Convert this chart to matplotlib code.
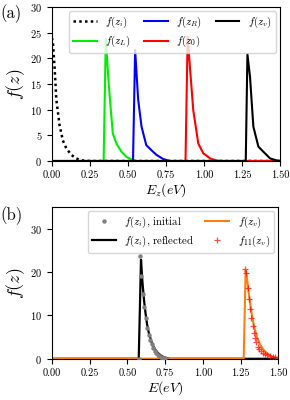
import matplotlib
matplotlib.use("Agg")
import matplotlib.pyplot as plt

plt.rcParams['font.family'] = ['cmr10', 'DejaVu Serif']
plt.rcParams['mathtext.fontset'] = 'cm'
plt.rcParams['axes.formatter.use_mathtext'] = True
plt.rcParams['axes.unicode_minus'] = False

# ---- panel (a) data ----
xi = [0.0, 0.007, 0.018, 0.029, 0.05, 0.072, 0.094, 0.127, 0.16, 0.19, 0.22, 0.26, 1.5]
yi = [24.0, 23.0, 18.0, 12.0, 7.0, 4.0, 2.5, 1.2, 0.5, 0.15, 0.05, 0.0, 0.0]

xL = [0.0, 0.34, 0.354, 0.37, 0.38, 0.40, 0.424, 0.457, 0.49, 0.53, 0.56, 1.5]
yL = [0.0, 0.0, 23.8, 16.5, 12.5, 5.4, 3.4, 1.8, 0.8, 0.2, 0.0, 0.0]

xR = [0.0, 0.533, 0.547, 0.567, 0.589, 0.62, 0.654, 0.687, 0.73, 0.775, 1.5]
yR = [0.0, 0.0, 21.6, 11.9, 6.7, 3.1, 2.1, 1.2, 0.4, 0.0, 0.0]

x0 = [0.0, 0.878, 0.892, 0.907, 0.929, 0.962, 0.995, 1.04, 1.08, 1.12, 1.5]
y0 = [0.0, 0.0, 24.2, 18.3, 9.9, 3.4, 1.5, 0.5, 0.1, 0.0, 0.0]

xv = [0.0, 1.274, 1.285, 1.302, 1.324, 1.357, 1.39, 1.434, 1.456, 1.478, 1.5]
yv = [0.0, 0.0, 20.8, 16.4, 6.7, 2.8, 1.8, 0.5, 0.3, 0.1, 0.0]

# ---- panel (b) data ----
xini = [0.575, 0.585, 0.59, 0.60, 0.61, 0.62, 0.63, 0.64, 0.65, 0.66, 0.67, 0.68,
        0.69, 0.70, 0.71, 0.72, 0.73, 0.74, 0.75]
yini = [0.0, 23.6, 19.0, 15.0, 12.0, 9.5, 7.0, 5.5, 4.3, 3.3, 2.5, 1.8,
        1.3, 0.9, 0.6, 0.4, 0.25, 0.15, 0.1]

xref = [0.0, 0.575, 0.59, 0.60, 0.61, 0.62, 0.63, 0.64, 0.66, 0.68, 0.70, 0.72, 0.74, 0.76, 0.78, 1.5]
yref = [0.0, 0.0, 22.8, 17.5, 13.5, 10.5, 8.0, 6.2, 3.8, 2.3, 1.4, 0.8, 0.4, 0.15, 0.0, 0.0]

xzv = [0.0, 1.27, 1.283, 1.29, 1.30, 1.31, 1.32, 1.33, 1.34, 1.35, 1.36, 1.38, 1.40,
       1.42, 1.44, 1.46, 1.48, 1.5]
yzv = [0.0, 0.0, 20.3, 19.2, 16.0, 13.5, 11.0, 9.0, 7.3, 6.0, 4.8, 3.2, 2.1,
       1.4, 0.9, 0.5, 0.3, 0.2]

x11 = [1.279, 1.288, 1.297, 1.306, 1.312, 1.321, 1.330, 1.339, 1.345, 1.352, 1.363,
       1.374, 1.385, 1.396, 1.412, 1.427, 1.445, 1.463, 1.48]
y11 = [20.7, 19.7, 16.3, 13.7, 11.4, 9.5, 7.6, 5.9, 4.9, 3.9, 2.8,
       2.2, 1.8, 1.4, 1.1, 0.8, 0.6, 0.5, 0.3]
x11_base = [0.0, 1.275]
y11_base = [0.0, 0.0]

xticks = [0.0, 0.25, 0.5, 0.75, 1.0, 1.25, 1.5]
xticklabels = ['0.00', '0.25', '0.50', '0.75', '1.00', '1.25', '1.50']

fig = plt.figure(figsize=(2.9, 4.0), dpi=100)
ax1 = fig.add_axes([0.179, 0.5975, 0.787, 0.385])
ax2 = fig.add_axes([0.179, 0.103, 0.781, 0.380])

ax1.plot(xi, yi, linestyle=(0, (1, 1.3)), color='black', lw=1.8, label=r'$f(z_i)$')
ax1.plot(xL, yL, '-', color='#00ee00', lw=1.5, label=r'$f(z_L)$')
ax1.plot(xR, yR, '-', color='#0000ff', lw=1.5, label=r'$f(z_R)$')
ax1.plot(x0, y0, '-', color='#ff0000', lw=1.5, label=r'$f(z_0)$')
ax1.plot(xv, yv, '-', color='black', lw=1.5, label=r'$f(z_v)$')
ax1.set_xlim(0, 1.5)
ax1.set_ylim(0, 30)
ax1.set_xticks(xticks)
ax1.set_xticklabels(xticklabels)
ax1.set_yticks([0, 5, 10, 15, 20, 25, 30])
ax1.set_xlabel(r'$E_z(eV)$', fontsize=10, labelpad=1)
ax1.set_ylabel(r'$f(z)$', fontsize=13, labelpad=2)
ax1.tick_params(labelsize=7.5)
ax1.legend(ncol=3, loc='upper right', fontsize=7.8, handlelength=2.2,
           columnspacing=1.2, borderaxespad=0.4, labelspacing=0.35,
           borderpad=0.35, handletextpad=0.8)
fig.text(0.0, 0.965, '(a)', fontsize=12, ha='left', va='center')

ax2.plot(x11_base, y11_base, '-', color='red', lw=2.5, alpha=0.45)
ax2.plot(xini, yini, 'o', color='gray', ms=2.2, label=r'$f(z_i)$, initial', zorder=3)
ax2.plot(xref, yref, '-', color='black', lw=1.6, label=r'$f(z_i)$, reflected', zorder=2)
ax2.plot(xzv, yzv, '-', color='#ff7f0e', lw=1.5, label=r'$f(z_v)$', zorder=2)
ax2.plot(x11, y11, '+', color='red', ms=5, mew=0.9, alpha=0.7, label=r'$f_{11}(z_v)$', zorder=3)
ax2.set_xlim(0, 1.5)
ax2.set_ylim(0, 35)
ax2.set_xticks(xticks)
ax2.set_xticklabels(xticklabels)
ax2.set_yticks([0, 10, 20, 30])
ax2.set_xlabel(r'$E(eV)$', fontsize=10, labelpad=1)
ax2.set_ylabel(r'$f(z)$', fontsize=13, labelpad=2)
ax2.tick_params(labelsize=7.5)
ax2.legend(ncol=2, loc='upper right', fontsize=7.8, handlelength=2.2,
           columnspacing=1.0, borderaxespad=0.4, labelspacing=0.35,
           borderpad=0.35, handletextpad=0.8)
fig.text(0.0, 0.462, '(b)', fontsize=12, ha='left', va='center')

fig.savefig('out.png', dpi=100)
